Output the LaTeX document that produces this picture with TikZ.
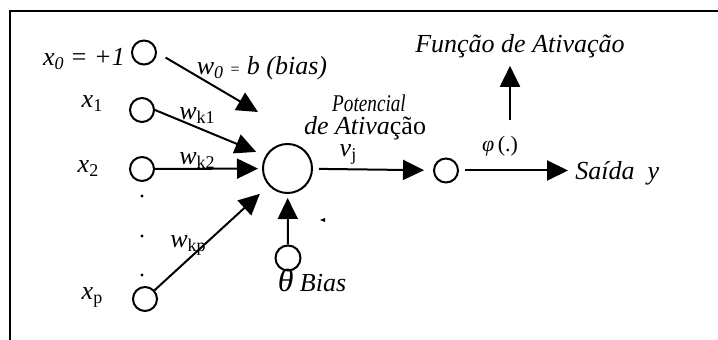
\documentclass[tikz,border=0pt]{standalone}
\usepackage{fontspec}
\usepackage{graphicx}
\setmainfont{Liberation Serif}
\usetikzlibrary{arrows.meta}
\newcommand{\sbs}[1]{\raisebox{-0.3ex}{\fontsize{9}{9}\selectfont #1}}

\begin{document}
\begin{tikzpicture}[x=0.5pt, y=-0.5pt,
  neuron/.style={draw, circle, line width=1pt, minimum size=12pt, inner sep=0},
  lbl/.style={font=\fontsize{13}{15}\selectfont\itshape, inner sep=0, anchor=base},
  wire/.style={line width=1pt, -{Triangle[length=10.5pt,width=10pt]}}]
  \useasboundingbox (0,0) rectangle (718,340);
  % Frame
  \draw[line width=1.2pt] (718,11) -- (10,11) -- (10,340);
  % Inputs
  \node[neuron] (x0c) at (144,52.5) {};
  \node[neuron] (x1c) at (142,110) {};
  \node[neuron] (x2c) at (142,169) {};
  \node[neuron] (xpc) at (145,299) {};
  \node[lbl] (x0lbl) at (84,66) {x\sbs{0} = +1};
  \node[lbl] (x1lbl) at (92,108) {x\sbs{\upshape 1}};
  \node[lbl] (x2lbl) at (88,173) {x\sbs{\upshape 2}};
  \node[lbl] (xplbl) at (92,300) {x\sbs{\upshape p}};
  \foreach \y in {196,236,275}
    \fill (142,\y) circle (0.8pt);
  % Neuron, bias and output
  \node[neuron, minimum size=24.5pt] (sum) at (287.5,168.5) {};
  \node[neuron, minimum size=12.5pt] (biasc) at (288,258) {};
  \node[neuron] (outc) at (446,170.5) {};
  \node[lbl] (bias) at (312,292) {{\fontsize{16}{16}\selectfont θ} Bias};
  \node[lbl, font=\fontsize{12}{14}\selectfont\itshape] (pot) at (369,112) {\scalebox{0.8}[1]{Potencial}};
  \node[lbl] (ativ) at (365,135) {de Ativa\upshape ção};
  \node[lbl] (vj) at (348,157) {v\sbs{\upshape j}};
  \node[lbl, font=\fontsize{11}{13}\selectfont] (phi) at (500,152) {\textit{φ}\,(.)};
  \node[lbl] (funcao) at (520,53) {Função de Ativação};
  \node[lbl, anchor=base west] (saida) at (575,180) {Saída~~y};
  % Weights
  \node[lbl] (w0) at (262,75) {w\sbs{0} {\fontsize{8}{8}\selectfont =} b (bias)};
  \node[lbl] (wk1) at (197,120) {w\sbs{\upshape k1}};
  \node[lbl] (wk2) at (197,165) {w\sbs{\upshape k2}};
  \node[lbl] (wkp) at (188,248) {w\sbs{\upshape kp}};
  % Connections
  \coordinate (w0tip) at (258,112);
  \draw[wire, shorten <=5pt] (x0c.east) -- (w0tip);
  \draw[wire, shorten >=5pt] (x1c.east) -- (sum.150);
  \draw[wire, shorten >=2pt] (x2c) -- (sum);
  \draw[wire, shorten >=6pt] (xpc) -- (sum);
  \draw[wire, shorten >=2pt] (biasc) -- (sum);
  \draw[wire, shorten <=3pt, shorten >=4.5pt] (sum) -- (outc);
  \draw[wire, shorten <=3pt, shorten >=3.5pt] (outc) -- (outc -| saida.west);
  \draw[wire, shorten <=8pt, shorten >=3.5pt] ([xshift=5pt]phi.north) -- ([xshift=-5pt]funcao.south);
  \fill (320,220) -- (325,218) -- (325,222) -- cycle;
\end{tikzpicture}
\end{document}
